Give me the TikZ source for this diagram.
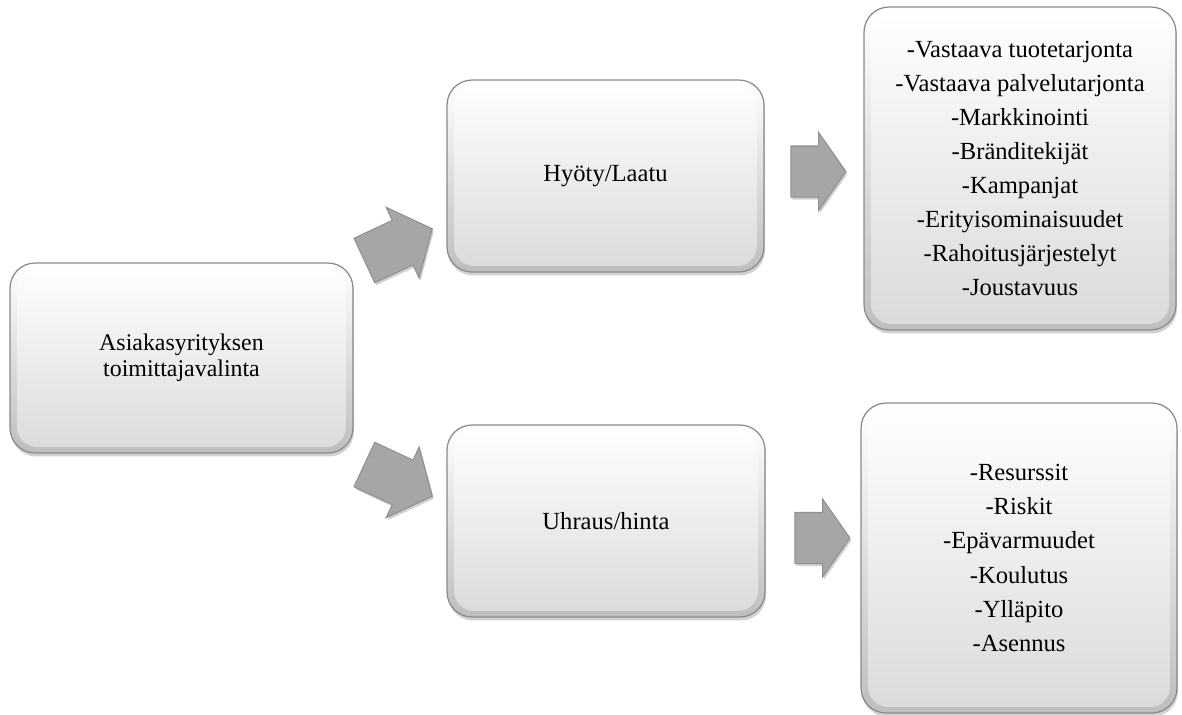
\documentclass[tikz,border=0pt]{standalone}
\usepackage{fontspec}
\setmainfont{Liberation Serif}
\usetikzlibrary{shapes.arrows,shadows,calc}

\definecolor{edgegray}{HTML}{8A8A8A}
\definecolor{facebot}{HTML}{DADADA}
\definecolor{ringbot}{HTML}{BEBEBE}
\definecolor{arrowfill}{HTML}{A6A6A6}
\definecolor{arrowedge}{HTML}{909090}

\begin{document}
\begin{tikzpicture}[x=0.02cm, y=-0.02cm,
  panel/.style={rectangle, rounded corners=0.5cm, draw=edgegray, line width=0.7pt,
    top color=white, bottom color=ringbot, align=center, inner sep=0pt, text=black,
    font=\fontsize{14}{19.4}\selectfont,
    drop shadow={shadow xshift=0.02cm, shadow yshift=-0.07cm, opacity=0.18, fill=black},
    path picture={
      \shade[top color=white, bottom color=facebot, rounded corners=0.4cm]
        ($(path picture bounding box.north west)+(0.14cm,-0.1cm)$) rectangle
        ($(path picture bounding box.south east)+(-0.14cm,0.12cm)$);
    }},
  blockarrow/.style={single arrow, draw=arrowedge, fill=arrowfill, line width=0.6pt,
    inner xsep=0pt, drop shadow={shadow xshift=0.03cm, shadow yshift=-0.05cm, opacity=0.18, fill=black}},
  sidearrow/.style={blockarrow, inner ysep=0.5cm, single arrow head extend=0.27cm,
    minimum height=1.1cm, single arrow tip angle=110},
  slantarrow/.style={blockarrow, inner ysep=0.48cm, single arrow head extend=0.29cm,
    minimum height=1.5cm, single arrow tip angle=100}
]
\useasboundingbox (0,0) rectangle (1182,714);

% boxes
\node[panel, minimum width=6.86cm, minimum height=3.8cm,
      font=\fontsize{13.6}{14.6}\selectfont] (choice) at (181.5,358)
  {Asiakasyrityksen\\toimittajavalinta};
\node[panel, minimum width=6.34cm, minimum height=3.84cm] (benefit) at (605.5,176) {Hyöty/Laatu};
\node[panel, minimum width=6.36cm, minimum height=3.84cm] (cost) at (606,521) {Uhraus/hinta};
\node[panel, minimum width=6.24cm, minimum height=6.46cm] (benefitlist) at (1020,168.5)
  {-Vastaava tuotetarjonta\\-Vastaava palvelutarjonta\\-Markkinointi\\-Bränditekijät\\-Kampanjat\\-Erityisominaisuudet\\-Rahoitusjärjestelyt\\-Joustavuus};
\node[panel, minimum width=6.32cm, minimum height=6.2cm] (costlist) at (1019,558)
  {-Resurssit\\-Riskit\\-Epävarmuudet\\-Koulutus\\-Ylläpito\\-Asennus};

% block arrows between the boxes
\node[slantarrow, rotate=25] (toBenefit) at (389,249) {};
\node[slantarrow, rotate=-25] (toCost) at (389,476) {};
\node[sidearrow] (toBenefitList) at (809.5,171.5) {};
\node[sidearrow] (toCostList) at (813.5,538) {};
\end{tikzpicture}
\end{document}
